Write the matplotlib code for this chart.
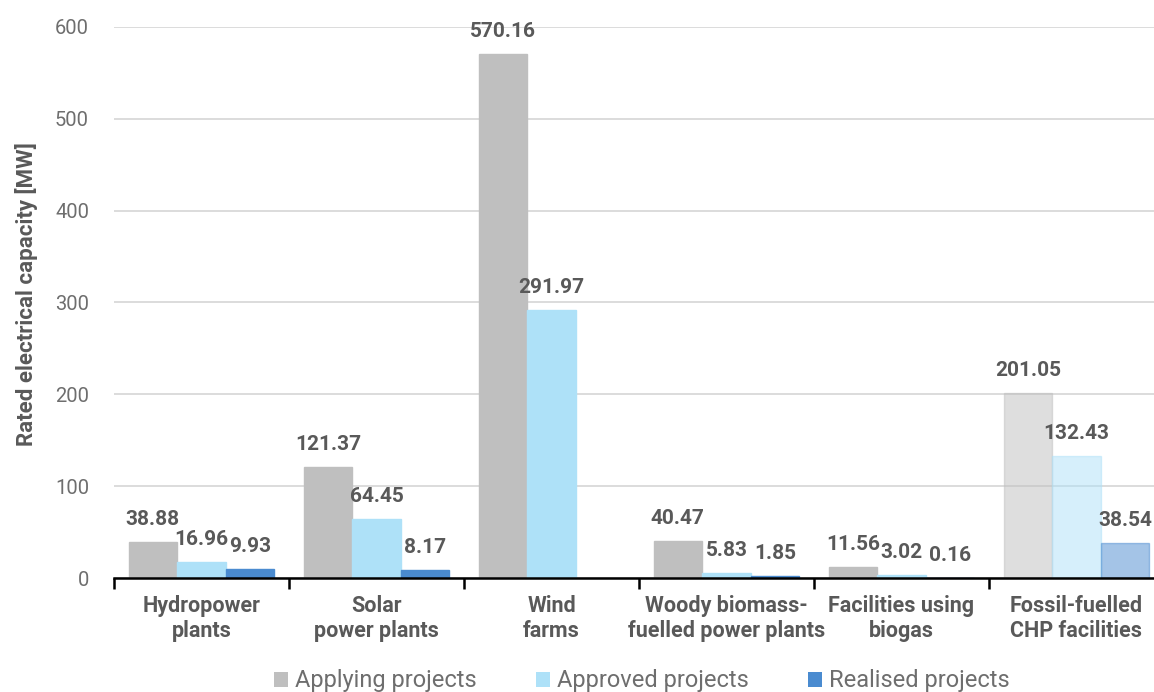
import numpy as np
import matplotlib
matplotlib.use("Agg")
import matplotlib.pyplot as plt
from matplotlib.patches import Patch

# Rated electrical capacity by technology [MW]
categories = [
    "Hydropower\nplants",
    "Solar\npower plants",
    "Wind\nfarms",
    "Woody biomass-\nfuelled power plants",
    "Facilities using\nbiogas",
    "Fossil-fuelled\nCHP facilities",
]
applying = [38.88, 121.37, 570.16, 40.47, 11.56, 201.05]
approved = [16.96, 64.45, 291.97, 5.83, 3.02, 132.43]
realised = [9.93, 8.17, np.nan, 1.85, 0.16, 38.54]
series_names = ["Applying projects", "Approved projects", "Realised projects"]
y_ticks = [0, 100, 200, 300, 400, 500, 600]

colors = ["#BFBFBF", "#AEE1F8", "#4A8BD0"]
faded_group = 5  # fossil-fuelled CHP bars are drawn faded
text_grey = "#595959"
light_grey = "#6E6E6E"

plt.rcParams["font.family"] = ["Roboto", "DejaVu Sans"]

W, H, DPI = 1154, 692, 100
fig = plt.figure(figsize=(W / DPI, H / DPI), dpi=DPI)
ax = fig.add_axes([114 / W, (H - 578) / H, (1164 - 114) / W, (578 - 27) / H])

x = np.arange(len(categories))
bw = 0.278
offsets = [-bw, 0.0, bw]
series = [applying, approved, realised]

for s, (vals, off, col) in enumerate(zip(series, offsets, colors)):
    for i, v in enumerate(vals):
        if np.isnan(v):
            continue
        alpha = 0.5 if i == faded_group else 1.0
        ax.bar(x[i] + off, v, width=bw, color=col, edgecolor=col, linewidth=1.0,
               alpha=alpha, zorder=3)
        ax.annotate(f"{v:.2f}", xy=(x[i] + off, v), xytext=(0, 13),
                    textcoords="offset pixels", ha="center", va="bottom",
                    fontsize=15, fontweight="bold", color=text_grey, zorder=5)

ax.set_xlim(-0.5, len(categories) - 0.5)
ax.set_ylim(0, 600)
ax.set_yticks(y_ticks)
ax.yaxis.grid(True, color="#D9D9D9", linewidth=1.3, zorder=0)
ax.set_axisbelow(True)
ax.tick_params(axis="y", length=0, pad=18, labelsize=14.5, labelcolor=light_grey)

ax.set_xticks(x)
ax.set_xticklabels(categories, fontsize=15.5, fontweight="bold", color=text_grey)
ax.tick_params(axis="x", which="major", length=0, pad=12)
ax.set_xticks(np.arange(len(categories) + 1) - 0.5, minor=True)
ax.tick_params(axis="x", which="minor", length=8, width=1.8, color="black",
               direction="out")

for side in ["left", "right", "top"]:
    ax.spines[side].set_visible(False)
ax.spines["bottom"].set_color("black")
ax.spines["bottom"].set_linewidth(1.8)
ax.spines["bottom"].set_zorder(4)

fig.text(27 / W, 1 - 294 / H, "Rated electrical capacity [MW]", rotation=90,
         ha="center", va="center", fontsize=16, fontweight="bold", color=text_grey)

handles = [Patch(facecolor=c, edgecolor="none") for c in colors]
leg = fig.legend(handles, series_names, loc="center", bbox_to_anchor=(0.556, 11 / H),
                 ncol=3, frameon=False, handlelength=0.6, handleheight=0.6,
                 handletextpad=0.3, columnspacing=2.5, borderpad=0,
                 prop={"family": ["Roboto", "DejaVu Sans"], "size": 17})
for t in leg.get_texts():
    t.set_color(light_grey)

fig.savefig("out.png", dpi=DPI)
